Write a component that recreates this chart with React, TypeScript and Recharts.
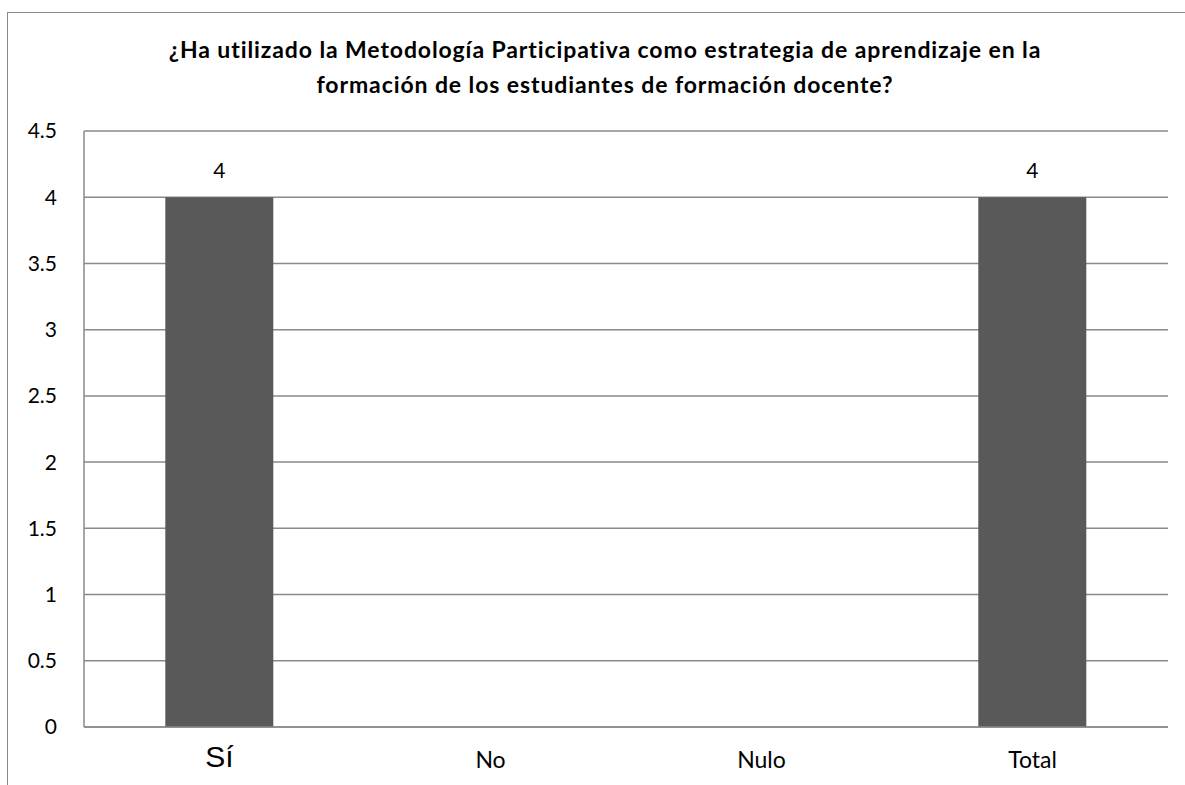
import { BarChart, Bar, XAxis, YAxis, CartesianGrid, LabelList } from "recharts";

const categories = ["Sí", "No", "Nulo", "Total"];
const counts = [4, null, null, 4];
const yTicks = [0, 0.5, 1, 1.5, 2, 2.5, 3, 3.5, 4, 4.5];

const titleLines = [
  "¿Ha utilizado la Metodología Participativa como estrategia de aprendizaje en la",
  "formación de los estudiantes de formación docente?",
];

const data = categories.map((name, i) => ({ name, value: counts[i] }));

const FONT = "Lato, 'Open Sans', sans-serif";

function XTick(props: any) {
  const { x, y, payload } = props;
  const isSi = payload.value === "Sí";
  return (
    <text
      x={x}
      y={y}
      dy={isSi ? 32 : 33}
      textAnchor="middle"
      fill="#000"
      fontFamily={isSi ? "'Liberation Sans', Arial, sans-serif" : FONT}
      fontSize={isSi ? 30 : 23}
    >
      {payload.value}
    </text>
  );
}

export default function App() {
  return (
    <div style={{ position: "absolute", left: 0, top: 0, width: 1185, height: 785, overflow: "hidden", background: "#fff" }}>
      <div
        style={{
          position: "absolute",
          left: 7,
          top: 12,
          width: 1300,
          height: 900,
          borderLeft: "1.5px solid #8a8a8a",
          borderTop: "1.5px solid #8a8a8a",
        }}
      />
      <div
        style={{
          position: "absolute",
          left: 0,
          top: 32,
          width: 1210,
          textAlign: "center",
          fontFamily: FONT,
          fontWeight: 700,
          fontSize: 23,
          letterSpacing: 0.9,
          lineHeight: "35px",
          color: "#000",
        }}
      >
        {titleLines.map((l) => (
          <div key={l}>{l}</div>
        ))}
      </div>
      <div style={{ position: "absolute", left: 0, top: 0 }}>
        <BarChart
          width={1185}
          height={785}
          data={data}
          margin={{ top: 131, right: 17, bottom: 28, left: 0 }}
          barCategoryGap="30%"
        >
          <CartesianGrid vertical={false} stroke="#8a8a8a" strokeWidth={1.5} />
          <XAxis
            dataKey="name"
            height={30}
            tick={<XTick />}
            tickLine={false}
            axisLine={{ stroke: "#8a8a8a", strokeWidth: 1.5 }}
            interval={0}
          />
          <YAxis
            width={84}
            domain={[0, 4.5]}
            ticks={yTicks}
            tickLine={false}
            tickSize={0}
            tickMargin={27}
            axisLine={{ stroke: "#8a8a8a", strokeWidth: 1.5 }}
            tick={{ fill: "#000", fontSize: 21, fontFamily: FONT }}
          />
          <Bar dataKey="value" fill="#595959" isAnimationActive={false}>
            <LabelList dataKey="value" position="top" offset={19} fill="#000" fontSize={21} fontFamily={FONT} />
          </Bar>
        </BarChart>
      </div>
    </div>
  );
}
